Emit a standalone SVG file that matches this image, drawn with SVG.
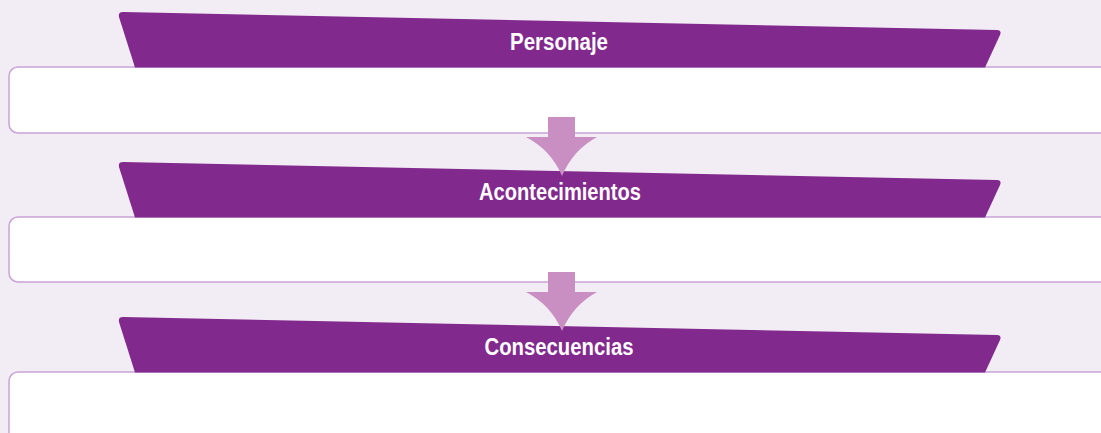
<svg xmlns="http://www.w3.org/2000/svg" width="1101" height="433" viewBox="0 0 1101 433">
<style>
.box{fill:#ffffff;stroke:#c9a3d6;stroke-width:1.5}
.ban{fill:#82298e}
.arr{fill:#c98fc3}
.t{font-family:"Liberation Sans",Arial,sans-serif;font-weight:bold;font-size:23px;fill:#ffffff;text-anchor:middle}
</style>
<rect x="0" y="0" width="1101" height="433" fill="#f2ecf4"/>
<g id="node1">
<rect class="box" x="9" y="67" width="1110" height="66" rx="9"/>
<path class="ban" d="M123,12 L997,30 Q1002,30.5 1000,35 L985,67.5 L135,67.5 L119,17 Q118,12 123,12 Z"/>
<text class="t" x="559" y="50" textLength="98" lengthAdjust="spacingAndGlyphs">Personaje</text>
</g>
<g id="node2">
<rect class="box" x="9" y="217" width="1110" height="65" rx="9"/>
<path class="ban" d="M123,162 L997,180 Q1002,180.5 1000,185 L985,217.5 L135,217.5 L119,167 Q118,162 123,162 Z"/>
<text class="t" x="560" y="200" textLength="162" lengthAdjust="spacingAndGlyphs">Acontecimientos</text>
</g>
<g id="node3">
<rect class="box" x="9" y="372" width="1110" height="80" rx="9"/>
<path class="ban" d="M123,317 L997,335 Q1002,335.5 1000,340 L985,372.5 L135,372.5 L119,322 Q118,317 123,317 Z"/>
<text class="t" x="559" y="355" textLength="149" lengthAdjust="spacingAndGlyphs">Consecuencias</text>
</g>
<g id="connectors">
<path class="arr" d="M548,117 L575,117 L575,137 L597,137 Q573,150 562,176 Q551,150 526,137 L548,137 Z"/>
<path class="arr" d="M548,272 L575,272 L575,292 L597,292 Q573,305 562,331 Q551,305 526,292 L548,292 Z"/>
</g>
</svg>
